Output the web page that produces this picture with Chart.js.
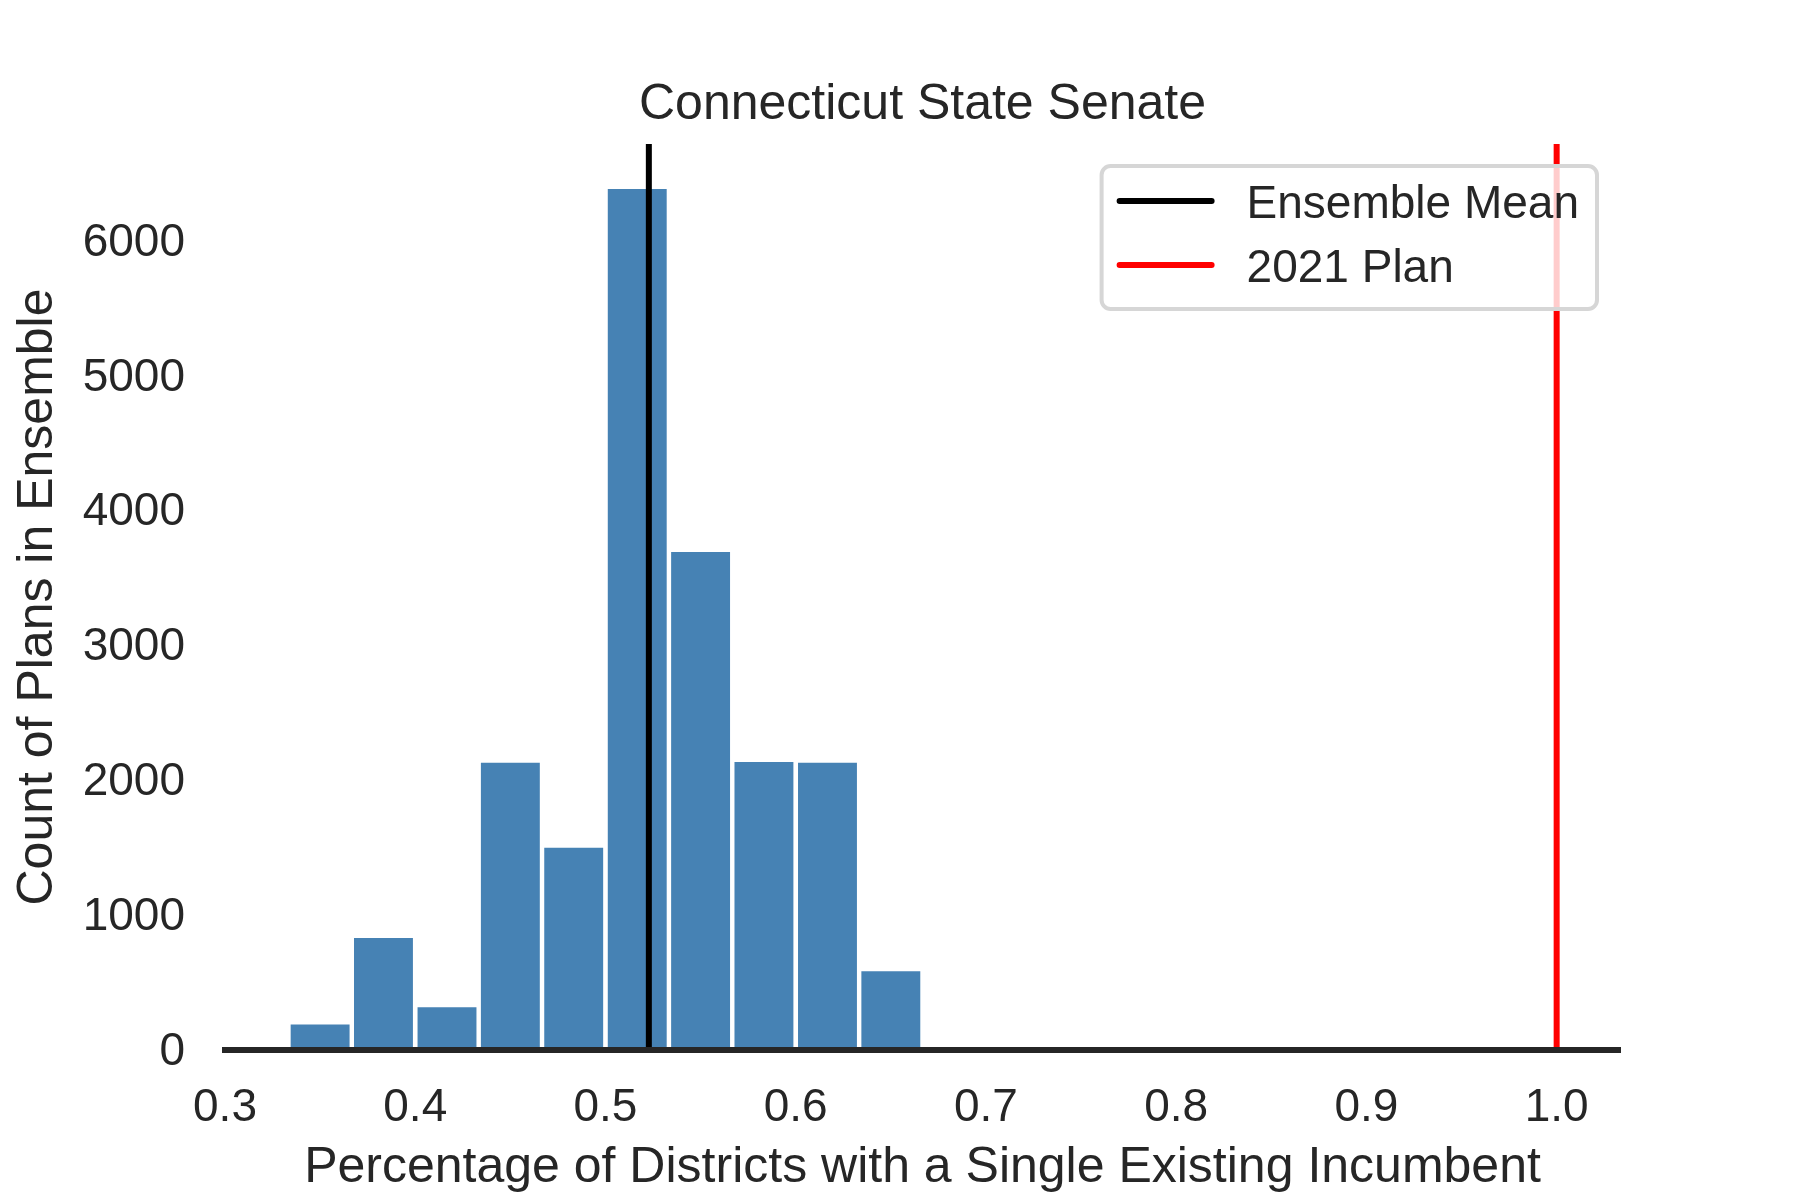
<!DOCTYPE html>
<html>
<head>
<meta charset="utf-8">
<script src="https://cdn.jsdelivr.net/npm/chart.js@4.4.1/dist/chart.umd.min.js"></script>
<style>
  body { margin: 0; background: #ffffff; }
  canvas { display: block; }
</style>
</head>
<body>
<canvas id="histChart" width="1800" height="1200"></canvas>
<script>
// histogram bins (centres of the 10 bins) and plan counts
const binCenters = [0.35, 0.3833, 0.4167, 0.45, 0.4833, 0.5167, 0.55, 0.5833, 0.6167, 0.65];
const planCounts = [190, 830, 318, 2130, 1500, 6387, 3693, 2137, 2130, 585];

// reference lines
const ensembleMean = 0.5228;
const plan2021 = 1.0;

// axis ticks
const xTicks = [0.3, 0.4, 0.5, 0.6, 0.7, 0.8, 0.9, 1.0];
const yTicks = [0, 1000, 2000, 3000, 4000, 5000, 6000];

const xMin = 0.3, xMax = 1.0333;
const yMax = 6720;

const textColor = '#262626';
Chart.defaults.font.family = '"Liberation Sans", Arial, sans-serif';
Chart.defaults.color = textColor;

// matplotlib-style legend box in the upper right of the plot
const boxLegend = {
    id: 'boxLegend',
    afterDraw(chart) {
        const ctx = chart.ctx;
        const area = chart.chartArea;
        const items = chart.data.datasets.filter(d => d.type === 'line');
        const fontSize = 46;

        ctx.save();
        ctx.font = fontSize + 'px "Liberation Sans", Arial, sans-serif';
        let textW = 0;
        items.forEach(d => { textW = Math.max(textW, ctx.measureText(d.label).width); });

        const w = 16 + 92 + 37 + textW + 18;
        const h = 143;
        const left = area.right - 23 - w;
        const top = area.top + 22;

        ctx.beginPath();
        ctx.roundRect(left, top, w, h, 9);
        ctx.fillStyle = 'rgba(255,255,255,0.8)';
        ctx.fill();
        ctx.lineWidth = 4;
        ctx.strokeStyle = '#d6d6d6';
        ctx.stroke();

        items.forEach((d, i) => {
            const y = top + 35 + i * 64;
            ctx.beginPath();
            ctx.moveTo(left + 18, y);
            ctx.lineTo(left + 110, y);
            ctx.lineWidth = 6;
            ctx.lineCap = 'round';
            ctx.strokeStyle = d.borderColor;
            ctx.stroke();

            ctx.fillStyle = textColor;
            ctx.textBaseline = 'alphabetic';
            ctx.textAlign = 'left';
            ctx.fillText(d.label, left + 145, y + 17);
        });
        ctx.restore();
    }
};

const ctx = document.getElementById('histChart');

new Chart(ctx, {
    type: 'bar',
    data: {
        datasets: [
            {
                label: 'Plans',
                data: binCenters.map((x, i) => ({ x: x, y: planCounts[i] })),
                backgroundColor: '#4682b4',
                borderWidth: 0,
                barPercentage: 0.93,
                categoryPercentage: 1.0,
                order: 2
            },
            {
                type: 'line',
                label: 'Ensemble Mean',
                data: [{ x: ensembleMean, y: 0 }, { x: ensembleMean, y: yMax }],
                borderColor: '#000000',
                borderWidth: 6,
                borderCapStyle: 'butt',
                pointRadius: 0,
                order: 1
            },
            {
                type: 'line',
                label: '2021 Plan',
                data: [{ x: plan2021, y: 0 }, { x: plan2021, y: yMax }],
                borderColor: '#ff0000',
                borderWidth: 6,
                borderCapStyle: 'butt',
                pointRadius: 0,
                order: 0
            }
        ]
    },
    options: {
        responsive: false,
        animation: false,
        devicePixelRatio: 1,
        layout: {
            padding: { left: 0, right: 180, top: 0, bottom: 0 }
        },
        plugins: {
            legend: { display: false },
            tooltip: { enabled: false },
            title: {
                display: true,
                text: 'Connecticut State Senate',
                fullSize: false,
                color: textColor,
                font: { size: 50, weight: 'normal', lineHeight: 1.2 },
                padding: { top: 75, bottom: 9 }
            }
        },
        scales: {
            x: {
                type: 'linear',
                min: xMin,
                max: xMax,
                offset: false,
                grid: { display: false, drawTicks: false, tickLength: 0 },
                border: { display: true, color: textColor, width: 6, z: 1 },
                afterBuildTicks: (axis) => { axis.ticks = xTicks.map(v => ({ value: v })); },
                afterFit: (axis) => { axis.height = 150; },
                ticks: {
                    color: textColor,
                    font: { size: 46, lineHeight: 1.2 },
                    padding: 31,
                    maxRotation: 0,
                    autoSkip: false,
                    callback: (value) => Number(value).toFixed(1)
                },
                title: {
                    display: true,
                    text: 'Percentage of Districts with a Single Existing Incumbent',
                    color: textColor,
                    font: { size: 50, lineHeight: 1.2 },
                    padding: { top: 0, bottom: 2 }
                }
            },
            y: {
                min: 0,
                max: yMax,
                grid: { display: false, drawTicks: false, tickLength: 0 },
                border: { display: false },
                afterBuildTicks: (axis) => { axis.ticks = yTicks.map(v => ({ value: v })); },
                afterFit: (axis) => { axis.width = 225; },
                ticks: {
                    color: textColor,
                    font: { size: 46, lineHeight: 1.2 },
                    padding: 40,
                    labelOffset: 2,
                    autoSkip: false,
                    callback: (value) => String(value)
                },
                title: {
                    display: true,
                    text: 'Count of Plans in Ensemble',
                    color: textColor,
                    font: { size: 50, lineHeight: 1.2 },
                    padding: { top: 8, bottom: 0 }
                }
            }
        }
    },
    plugins: [boxLegend]
});
</script>
</body>
</html>
